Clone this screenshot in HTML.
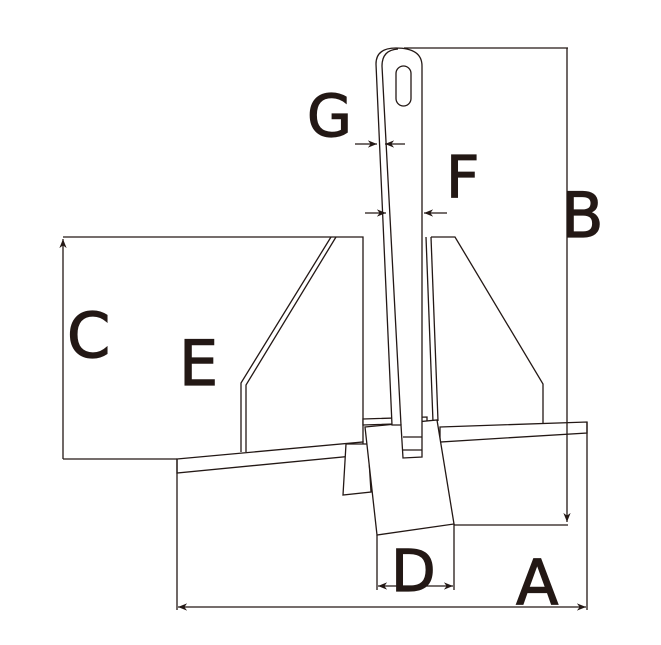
<!DOCTYPE html>
<html><head><style>
html,body{margin:0;padding:0;background:#fff;}
svg{display:block;}
text{font-family:"DejaVu Sans","Liberation Sans",sans-serif;fill:#231815;}
</style></head><body>
<svg width="661" height="645" viewBox="0 0 661 645" xmlns="http://www.w3.org/2000/svg">
<defs>
<marker id="ar" viewBox="0 0 10 10" refX="10" refY="5" markerWidth="7" markerHeight="7" orient="auto-start-reverse"><path d="M0,1 L10,5 L0,9 L3,5 z" fill="#231815"/></marker>
</defs>
<g fill="none" stroke="#231815" stroke-width="1.3">
<!-- left fluke -->
<polyline points="63,237 363,237 363,442"/>
<polyline points="336,237 246,385 246,452"/>
<polyline points="331,237 241,383 241,452"/>
<!-- right fluke -->
<polyline points="431,237 455,237 543,384 543,425"/>
<polyline points="426,237 433,422"/>
<polyline points="431,237 438,421"/>
<!-- stock -->
<polygon points="177,459 363,442 363,455 177,473" fill="#fff"/>
<polygon points="440,427 587,422 587,433 440,442" fill="#fff"/>
<polygon points="346,444 343,495 371,492 368,444" fill="#fff"/>
<!-- small plate -->
<polygon points="363,419 427,417 427,423 363,425" fill="#fff"/>
<!-- crown block -->
<polygon points="365,427 437,420 454,524 377,535" fill="#fff"/>
<!-- shank -->
<path d="M392,425 L376,64 Q376,48 396,48 Q422,48 422,66 L422,457 L403,458 L401,425 Z" fill="#fff"/>
<path d="M401,425 L382,66 Q382,50 398,49"/>
<line x1="403" y1="437" x2="422" y2="437"/>
<line x1="403" y1="450" x2="422" y2="450"/>
<rect x="396" y="66" width="15" height="40" rx="7.5"/>
<!-- B dim -->
<line x1="404" y1="48" x2="568" y2="48"/>
<line x1="567" y1="48" x2="567" y2="522" marker-end="url(#ar)"/>
<line x1="454" y1="525" x2="568" y2="525"/>
<!-- A dim -->
<line x1="177" y1="459" x2="177" y2="610"/>
<line x1="587" y1="422" x2="587" y2="610"/>
<line x1="178" y1="607" x2="586" y2="607" marker-start="url(#ar)" marker-end="url(#ar)"/>
<!-- D dim -->
<line x1="377" y1="535" x2="377" y2="590"/>
<line x1="454" y1="524" x2="454" y2="590"/>
<line x1="378" y1="586" x2="453" y2="586" marker-start="url(#ar)" marker-end="url(#ar)"/>
<!-- C dim -->
<line x1="63" y1="239" x2="63" y2="459" marker-start="url(#ar)"/>
<line x1="63" y1="459" x2="177" y2="459"/>
<!-- G arrows -->
<line x1="355" y1="144" x2="377" y2="144" marker-end="url(#ar)"/>
<line x1="405" y1="144" x2="385" y2="144" marker-end="url(#ar)"/>
<!-- F arrows -->
<line x1="365" y1="213" x2="386" y2="213" marker-end="url(#ar)"/>
<line x1="447" y1="213" x2="424" y2="213" marker-end="url(#ar)"/>
</g>
<g stroke="#231815" stroke-width="1.2">
<text x="516" y="604" font-size="62">A</text>
<text x="561" y="237" font-size="62">B</text>
<text x="67" y="357" font-size="62">C</text>
<text x="391" y="591" font-size="58">D</text>
<text x="179" y="385" font-size="62">E</text>
<text x="446" y="197" font-size="58">F</text>
<text x="307" y="136" font-size="58">G</text>
</g>
</svg>
</body></html>
